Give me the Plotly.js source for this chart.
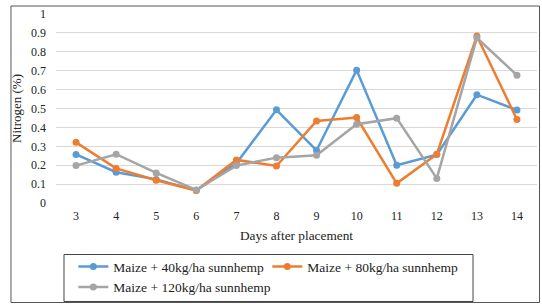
<!DOCTYPE html>
<html>
<head>
<meta charset="utf-8">
<script src="https://cdn.plot.ly/plotly-3.0.1.min.js"></script>
<style>html,body{margin:0;padding:0;background:#fff;}#chart{width:542px;height:304px;}</style>
</head>
<body>
<div id="chart"></div>
<script>
var days = ["3","4","5","6","7","8","9","10","11","12","13","14"];
var maize40 = [0.257, 0.163, 0.125, 0.067, 0.21, 0.493, 0.278, 0.703, 0.2, 0.256, 0.573, 0.492];
var maize80 = [0.321, 0.183, 0.12, 0.066, 0.228, 0.196, 0.434, 0.452, 0.104, 0.258, 0.884, 0.442];
var maize120 = [0.198, 0.258, 0.159, 0.069, 0.198, 0.24, 0.253, 0.417, 0.449, 0.13, 0.874, 0.676];
var seriesNames = ["Maize + 40kg/ha sunnhemp", "Maize + 80kg/ha sunnhemp", "Maize + 120kg/ha sunnhemp"];
var colors = ["#5b9bd5", "#ed7d31", "#a5a5a5"];
var yTicks = [0, 0.1, 0.2, 0.3, 0.4, 0.5, 0.6, 0.7, 0.8, 0.9, 1];

var series = [maize40, maize80, maize120];
var traces = series.map(function(s, i){
  return {x: days, y: s, type: 'scatter', mode: 'lines+markers', name: seriesNames[i],
    line: {color: colors[i], width: 2.5}, marker: {color: colors[i], size: 7}};
});
var font = "Liberation Serif";
var layout = {
  width: 542, height: 304,
  margin: {l: 56, r: 5, t: 14, b: 101},
  paper_bgcolor: '#fff', plot_bgcolor: '#fff',
  font: {family: font, size: 12, color: '#222'},
  showlegend: true,
  xaxis: {type: 'category', range: [-0.5, 11.5], showgrid: false, zeroline: false, showline: false,
    ticks: '', ticklabelstandoff: 4, tickfont: {family: font, size: 12, color: '#222'},
    title: {text: 'Days after placement', font: {family: font, size: 13.3, color: '#222'}, standoff: 8}},
  yaxis: {range: [0, 1.0], tickvals: yTicks, ticktext: yTicks.map(String), showgrid: true, gridcolor: '#d9d9d9', gridwidth: 1,
    zeroline: false, showline: false, ticks: '', ticklabelstandoff: 9,
    tickfont: {family: font, size: 12, color: '#222'},
    title: {text: 'Nitrogen (%)', font: {family: font, size: 13, color: '#222'}, standoff: 6}},
  legend: {orientation: 'h', x: 0.036, xanchor: 'left', yref: 'container', y: 0.174, yanchor: 'top',
    borderwidth: 0, bgcolor: 'rgba(0,0,0,0)', entrywidth: 149, entrywidthmode: 'pixels',
    font: {family: font, size: 13.5, color: '#222'}, tracegroupgap: 0},
  shapes: [
    {type: 'rect', xref: 'paper', yref: 'paper', x0: -0.0936, x1: 1.0052, y0: -0.5265, y1: 1.0423,
      line: {color: '#555', width: 1}, fillcolor: 'rgba(0,0,0,0)', layer: 'below'},
    {type: 'rect', xref: 'paper', yref: 'paper', x0: 0.0166, x1: 0.867, y0: -0.521, y1: -0.2725,
      line: {color: '#444', width: 1}, fillcolor: 'rgba(0,0,0,0)', layer: 'below'}
  ]
};
Plotly.newPlot('chart', traces, layout, {displayModeBar: false, staticPlot: true});
</script>
</body>
</html>
